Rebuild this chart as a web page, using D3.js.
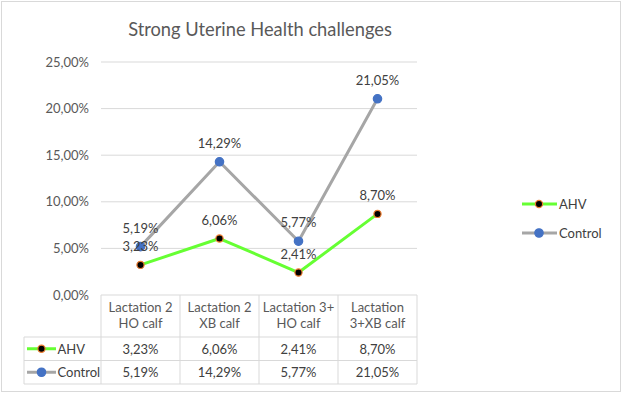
<!DOCTYPE html>
<html>
<head>
<meta charset="utf-8">
<script src="https://cdn.jsdelivr.net/npm/d3@7"></script>
<style>
  body { margin: 0; background: #fff; }
  svg { font-family: Lato, "Open Sans", sans-serif; }
</style>
</head>
<body>
<svg id="chart" width="623" height="394"></svg>
<script>
// chart data
const categories = ["Lactation 2 HO calf", "Lactation 2 XB calf", "Lactation 3+ HO calf", "Lactation 3+XB calf"];
const categoryLines = [["Lactation 2", "HO calf"], ["Lactation 2", "XB calf"], ["Lactation 3+", "HO calf"], ["Lactation", "3+XB calf"]];
const ahv = [0.0323, 0.0606, 0.0241, 0.0870];
const control = [0.0519, 0.1429, 0.0577, 0.2105];
const yTicks = [0, 0.05, 0.10, 0.15, 0.20, 0.25];

const fmt = v => d3.format(".2f")(v * 100).replace(".", ",") + "%";

const series = [
  { name: "AHV", values: ahv, line: "#66ff33", fill: "#000", stroke: "#ed7d31", r: 3.6 },
  { name: "Control", values: control, line: "#a6a6a6", fill: "#4472c4", stroke: "#4472c4", r: 4.2 }
];

const svg = d3.select("#chart");
const plotLeft = 101, plotRight = 417, plotTop = 62, plotBottom = 295;

svg.append("rect")
  .attr("x", 1.5).attr("y", 1.5).attr("width", 619).attr("height", 390)
  .attr("fill", "#fff").attr("stroke", "#d9d9d9");

svg.append("text")
  .attr("x", 260).attr("y", 36)
  .attr("text-anchor", "middle")
  .attr("font-size", 18.3)
  .attr("fill", "#595959")
  .text("Strong Uterine Health challenges");

const x = d3.scaleBand().domain(categories).range([plotLeft, plotRight]);
const y = d3.scaleLinear().domain([0, 0.25]).range([plotBottom, plotTop]);

// gridlines
svg.append("g")
  .selectAll("line")
  .data(yTicks.filter(d => d > 0))
  .join("line")
  .attr("x1", plotLeft).attr("x2", plotRight)
  .attr("y1", d => y(d)).attr("y2", d => y(d))
  .attr("stroke", "#d9d9d9").attr("stroke-width", 1);

// y axis labels
const yAxis = svg.append("g")
  .attr("transform", `translate(${plotLeft},0)`)
  .call(d3.axisLeft(y).tickValues(yTicks).tickFormat(fmt).tickSize(0).tickPadding(12));
yAxis.select(".domain").remove();
yAxis.selectAll("text")
  .attr("font-family", "Lato, 'Open Sans', sans-serif")
  .attr("font-size", 13).attr("fill", "#595959");

// lines
const line = d3.line()
  .x((d, i) => x(categories[i]) + x.bandwidth() / 2)
  .y(d => y(d));

series.forEach(s => {
  svg.append("path")
    .datum(s.values)
    .attr("fill", "none")
    .attr("stroke", s.line)
    .attr("stroke-width", 3)
    .attr("stroke-linejoin", "round")
    .attr("d", line);
});

series.forEach(s => {
  svg.append("g")
    .selectAll("circle")
    .data(s.values)
    .join("circle")
    .attr("cx", (d, i) => x(categories[i]) + x.bandwidth() / 2)
    .attr("cy", d => y(d))
    .attr("r", s.r)
    .attr("fill", s.fill)
    .attr("stroke", s.stroke)
    .attr("stroke-width", 1.2);
});

// data labels
series.forEach(s => {
  svg.append("g")
    .selectAll("text")
    .data(s.values)
    .join("text")
    .attr("x", (d, i) => x(categories[i]) + x.bandwidth() / 2)
    .attr("y", d => y(d) - 14)
    .attr("text-anchor", "middle")
    .attr("font-size", 13)
    .attr("fill", "#404040")
    .text(fmt);
});

// legend (right)
const legend = svg.append("g");
series.forEach((s, i) => {
  const ly = 204 + i * 29;
  legend.append("line")
    .attr("x1", 522).attr("x2", 557).attr("y1", ly).attr("y2", ly)
    .attr("stroke", s.line).attr("stroke-width", 3);
  legend.append("circle")
    .attr("cx", 539).attr("cy", ly).attr("r", s.r)
    .attr("fill", s.fill).attr("stroke", s.stroke).attr("stroke-width", 1.2);
  legend.append("text")
    .attr("x", 559).attr("y", ly + 5)
    .attr("font-size", 13).attr("fill", "#404040")
    .text(s.name);
});

// data table
const tableTop = 295, headerBottom = 337, rowH = 23.5, tableLeft = 24;
const grid = "#d9d9d9";
const table = svg.append("g");

categories.forEach((c, i) => {
  const bx = x(c);
  table.append("line").attr("x1", bx).attr("x2", bx)
    .attr("y1", tableTop).attr("y2", headerBottom + rowH * 2)
    .attr("stroke", grid);
  categoryLines[i].forEach((t, j) => {
    table.append("text")
      .attr("x", bx + x.bandwidth() / 2)
      .attr("y", tableTop + 16.5 + j * 16.5)
      .attr("text-anchor", "middle")
      .attr("font-size", 13).attr("fill", "#595959")
      .text(t);
  });
});
table.append("line").attr("x1", plotRight).attr("x2", plotRight)
  .attr("y1", tableTop).attr("y2", headerBottom + rowH * 2).attr("stroke", grid);
table.append("line").attr("x1", tableLeft).attr("x2", tableLeft)
  .attr("y1", headerBottom).attr("y2", headerBottom + rowH * 2).attr("stroke", grid);
table.append("line").attr("x1", plotLeft).attr("x2", plotRight)
  .attr("y1", tableTop).attr("y2", tableTop).attr("stroke", grid);
[0, 1, 2].forEach(k => {
  table.append("line").attr("x1", tableLeft).attr("x2", plotRight)
    .attr("y1", headerBottom + k * rowH).attr("y2", headerBottom + k * rowH)
    .attr("stroke", grid);
});

series.forEach((s, r) => {
  const cy = headerBottom + r * rowH + rowH / 2;
  table.append("line")
    .attr("x1", 27).attr("x2", 56).attr("y1", cy).attr("y2", cy)
    .attr("stroke", s.line).attr("stroke-width", 3);
  table.append("circle")
    .attr("cx", 41.5).attr("cy", cy).attr("r", s.r)
    .attr("fill", s.fill).attr("stroke", s.stroke).attr("stroke-width", 1.2);
  table.append("text")
    .attr("x", 57.5).attr("y", cy + 5)
    .attr("font-size", 13).attr("fill", "#404040")
    .text(s.name);
  s.values.forEach((v, i) => {
    table.append("text")
      .attr("x", x(categories[i]) + x.bandwidth() / 2)
      .attr("y", cy + 5)
      .attr("text-anchor", "middle")
      .attr("font-size", 13).attr("fill", "#404040")
      .text(fmt(v));
  });
});
</script>
</body>
</html>
